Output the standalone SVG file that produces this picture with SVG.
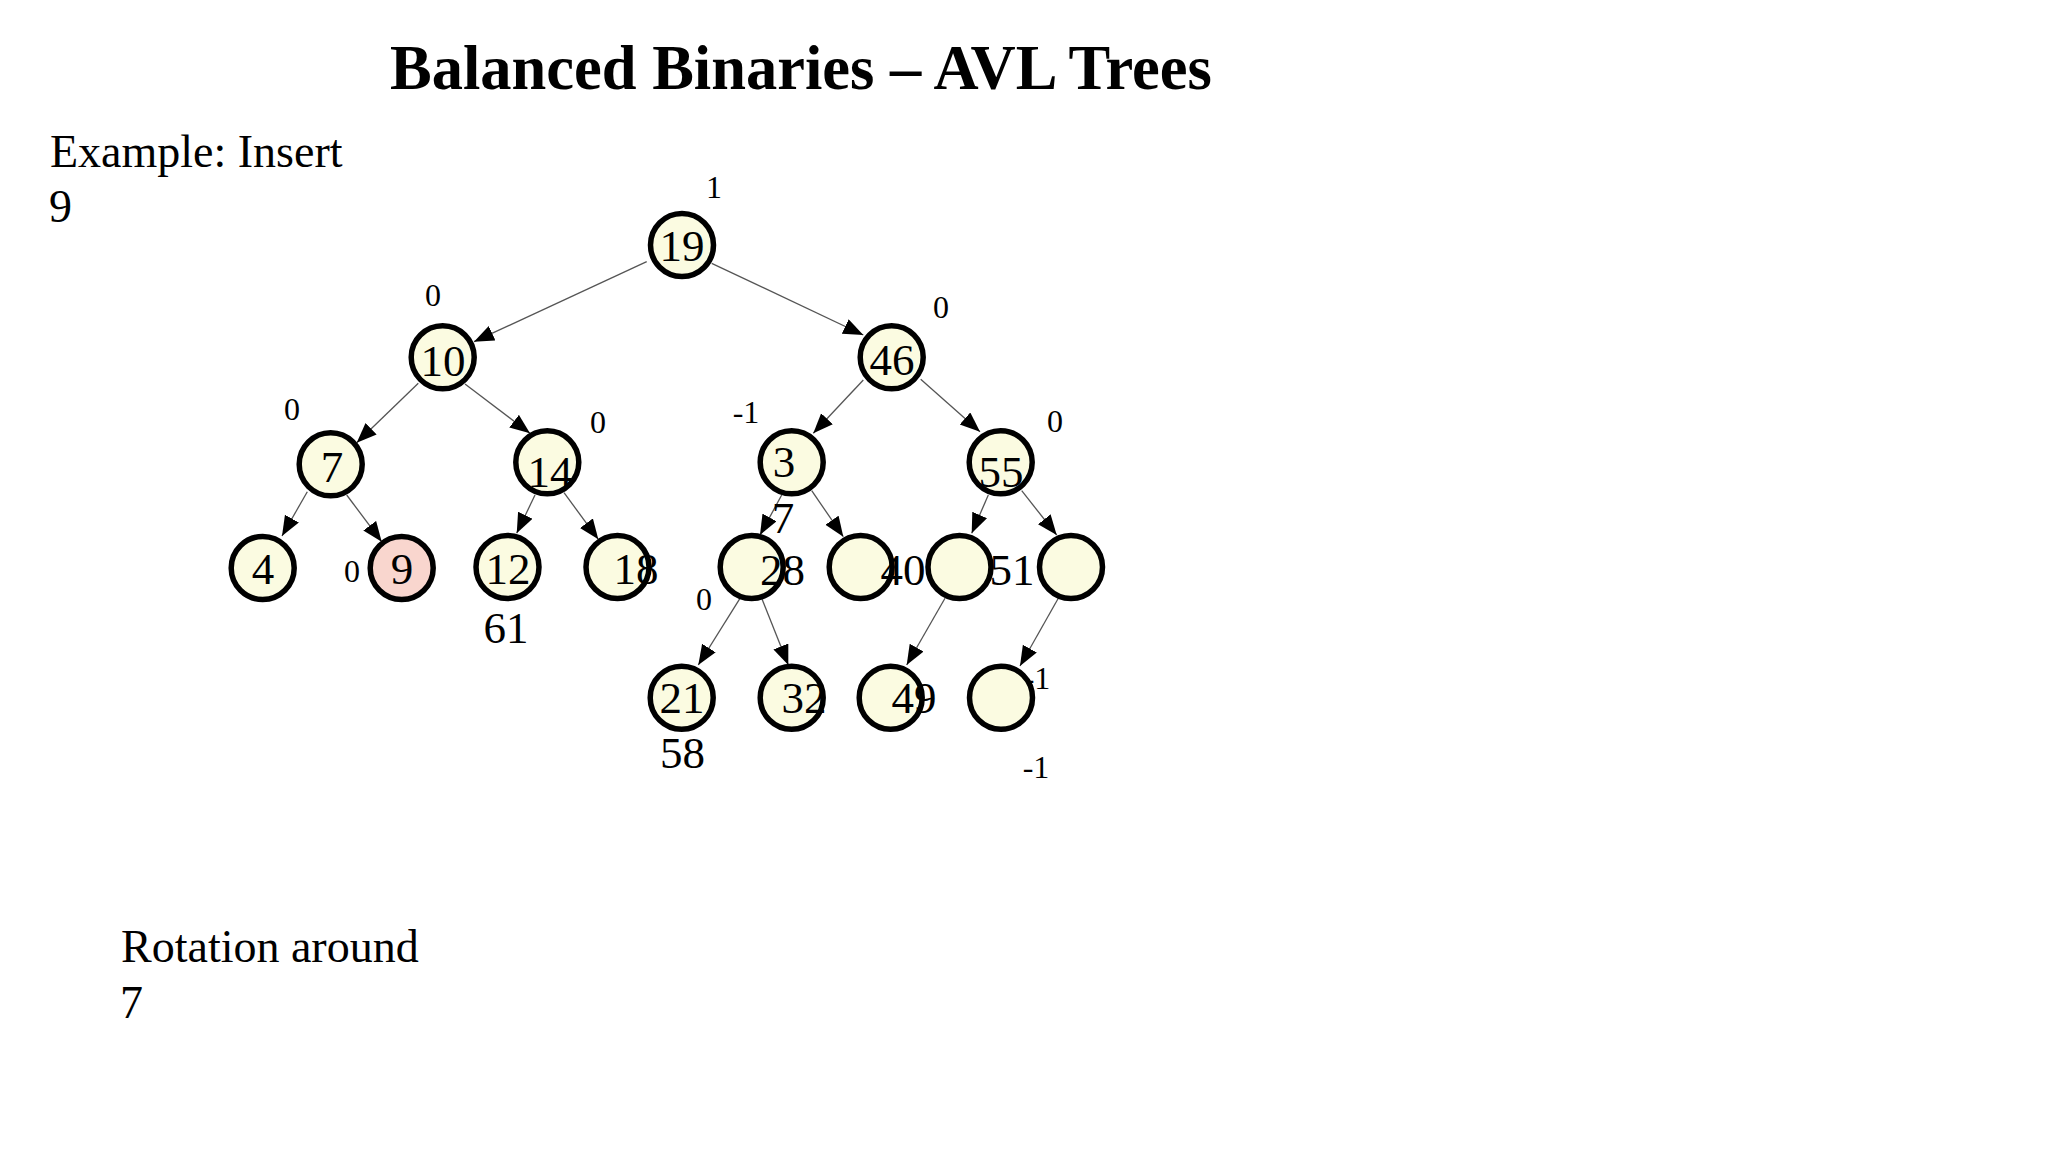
<svg xmlns="http://www.w3.org/2000/svg" width="2048" height="1152" viewBox="0 0 2048 1152">
<defs>
<marker id="arr" markerUnits="userSpaceOnUse" markerWidth="22" markerHeight="18" refX="20" refY="8" orient="auto">
<path d="M0,0 L20,8 L0,16 z" fill="#000"/>
</marker>
<style>
.node{fill:#fbfbe1;stroke:#000;stroke-width:5.5}
.hot{fill:#f9d6ce}
.edge{stroke:#555;stroke-width:1.3;fill:none;marker-end:url(#arr)}
.lab{font-family:"Liberation Serif","Times New Roman",serif;font-size:45px;fill:#000;text-anchor:middle}
.bal{font-family:"Liberation Serif","Times New Roman",serif;font-size:32px;fill:#000;text-anchor:middle}
.txt{font-family:"Liberation Serif","Times New Roman",serif;font-size:46px;fill:#000}
.title{font-family:"Liberation Serif","Times New Roman",serif;font-size:62.5px;font-weight:bold;fill:#000}
</style>
</defs>
<rect width="2048" height="1152" fill="#fff"/>
<text class="title" x="390" y="89">Balanced Binaries – AVL Trees</text>
<text class="txt" x="50" y="167">Example: Insert</text>
<text class="txt" x="49" y="222">9</text>
<text class="txt" x="121" y="962">Rotation around</text>
<text class="txt" x="120" y="1018">7</text>

<g id="connectors">
<line class="edge" x1="646.7" y1="261.7" x2="474" y2="341.7"/>
<line class="edge" x1="711.7" y1="263.3" x2="863.3" y2="335"/>
<line class="edge" x1="418.3" y1="383.3" x2="356.7" y2="442.7"/>
<line class="edge" x1="465" y1="384" x2="530" y2="433.3"/>
<line class="edge" x1="307.3" y1="491.7" x2="282" y2="536"/>
<line class="edge" x1="346.7" y1="495" x2="381.7" y2="541.7"/>
<line class="edge" x1="535" y1="495" x2="516.7" y2="533.3"/>
<line class="edge" x1="564" y1="492.7" x2="598.3" y2="539.3"/>
<line class="edge" x1="863.3" y1="380" x2="813.3" y2="433.3"/>
<line class="edge" x1="920.7" y1="379.3" x2="980" y2="431.7"/>
<line class="edge" x1="781.7" y1="495" x2="760" y2="535"/>
<line class="edge" x1="811.7" y1="490.7" x2="843.3" y2="536.7"/>
<line class="edge" x1="988.3" y1="495" x2="971.7" y2="533.3"/>
<line class="edge" x1="1021.7" y1="490.7" x2="1056.7" y2="535"/>
<line class="edge" x1="740" y1="598.3" x2="698.3" y2="665"/>
<line class="edge" x1="761.7" y1="598.3" x2="788.3" y2="665"/>
<line class="edge" x1="945" y1="598.3" x2="906.7" y2="665"/>
<line class="edge" x1="1058.3" y1="598.3" x2="1020" y2="666"/>
</g>

<g id="n19"><circle class="node" cx="682" cy="245" r="31.5"/><text class="lab" x="682" y="261">19</text><text class="bal" x="714" y="198">1</text></g>
<g id="n10"><circle class="node" cx="442.7" cy="357.3" r="31.5"/><text class="lab" x="443" y="376">10</text><text class="bal" x="433" y="306">0</text></g>
<g id="n46"><circle class="node" cx="891.7" cy="357.3" r="31.5"/><text class="lab" x="892" y="375">46</text><text class="bal" x="941" y="318">0</text></g>
<g id="n7"><circle class="node" cx="330.7" cy="464.3" r="31.5"/><text class="lab" x="332" y="482">7</text><text class="bal" x="292" y="420">0</text></g>
<g id="n14"><circle class="node" cx="547.3" cy="462.3" r="31.5"/><text class="lab" x="550" y="487">14</text><text class="bal" x="598" y="433">0</text></g>
<g id="n3"><circle class="node" cx="791.7" cy="462.3" r="31.5"/><text class="lab" x="784" y="477">3</text><text class="bal" x="746" y="423">-1</text></g>
<g id="n55"><circle class="node" cx="1000.7" cy="462.3" r="31.5"/><text class="lab" x="1001" y="487">55</text><text class="bal" x="1055" y="432">0</text></g>
<g id="n4"><circle class="node" cx="262.7" cy="568" r="31.5"/><text class="lab" x="263" y="584">4</text></g>
<g id="n9"><circle class="node hot" cx="401.7" cy="568" r="31.5"/><text class="lab" x="402" y="584">9</text><text class="bal" x="352" y="582">0</text></g>
<g id="n12"><circle class="node" cx="507.5" cy="567" r="31.5"/><text class="lab" x="508" y="584">12</text><text class="lab" x="506" y="643">61</text></g>
<g id="n18"><circle class="node" cx="617.5" cy="567" r="31.5"/><text class="lab" x="636" y="584">18</text></g>
<g id="n28"><circle class="node" cx="751.7" cy="567" r="31.5"/><text class="lab" x="782.5" y="585">28</text><text class="lab" x="783" y="533">7</text><text class="bal" x="704" y="610">0</text></g>
<g id="n40"><circle class="node" cx="860.7" cy="567" r="31.5"/><text class="lab" x="903" y="585">40</text></g>
<g id="n51"><circle class="node" cx="959.5" cy="567" r="31.5"/><text class="lab" x="1012" y="585">51</text></g>
<g id="n61"><circle class="node" cx="1071" cy="567" r="31.5"/></g>
<g id="n21"><circle class="node" cx="681.7" cy="697.7" r="31.5"/><text class="lab" x="682" y="713">21</text><text class="lab" x="682.5" y="768">58</text></g>
<g id="n32"><circle class="node" cx="791.7" cy="697.7" r="31.5"/><text class="lab" x="804" y="713">32</text></g>
<g id="n49"><circle class="node" cx="890.7" cy="697.7" r="31.5"/><text class="lab" x="914" y="713">49</text></g>
<g id="n58"><text class="bal" x="1037" y="689">-1</text><circle class="node" cx="1001" cy="697.7" r="31.5"/><text class="bal" x="1036" y="778">-1</text></g>
</svg>
